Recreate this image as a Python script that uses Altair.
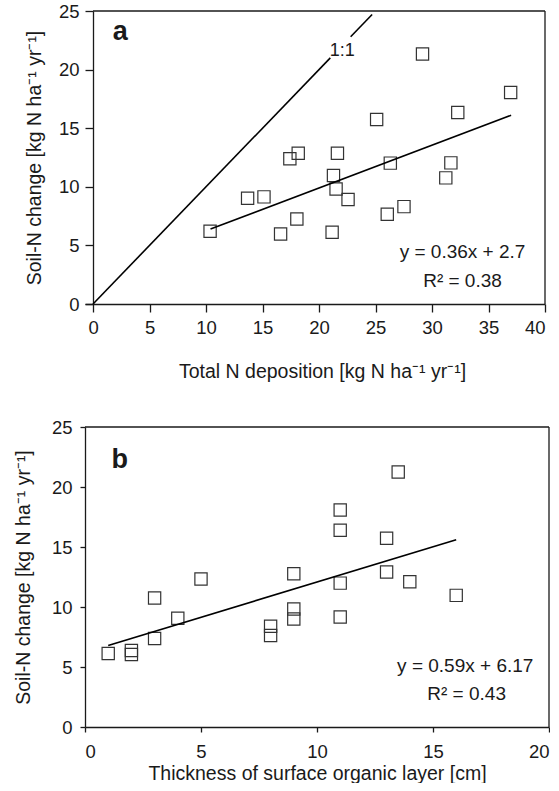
import altair as alt
import pandas as pd

FONT = "Liberation Sans"

# ---- panel a data
dep = [10.36, 13.68, 15.13, 16.6, 17.42, 18.16, 18.04, 21.16, 21.28, 21.63, 21.51,
       22.57, 25.1, 26.04, 26.31, 27.52, 29.16, 31.22, 31.67, 32.28, 36.96]
soil_a = [6.21, 9.03, 9.14, 5.98, 12.39, 12.87, 7.26, 6.12, 10.96, 12.87, 9.82,
          8.91, 15.75, 7.66, 12.02, 8.31, 21.33, 10.76, 12.04, 16.34, 18.05]
fit_a_x = [10.4, 37.0]
fit_a_y = [6.4, 16.1]
one_x = [0.0, 22.8]
one_x2 = [21.0, 24.7]
one_label = ["1:1"]
one_label_x = [22.05]
one_label_y = [21.6]
ann_a_text = ["y = 0.36x + 2.7", "R² = 0.38"]
ann_a_x = [32.7, 32.7]
ann_a_y = [4.41, 1.99]
xa_ticks = [0, 5, 10, 15, 20, 25, 30, 35, 40]

# ---- panel b data
thick = [1.0, 2.0, 2.0, 3.0, 3.0, 4.0, 5.0, 8.0, 8.0, 9.0, 9.0,
         9.0, 11.0, 11.0, 11.0, 11.0, 13.0, 13.0, 13.5, 14.0, 16.0]
soil_b = [6.12, 6.37, 6.04, 10.75, 7.37, 9.06, 12.33, 8.39, 7.62, 12.77, 9.83,
          9.0, 18.09, 16.4, 11.99, 9.17, 15.73, 12.91, 21.25, 12.1, 10.97]
fit_b_x = [1.0, 16.0]
fit_b_y = [6.8, 15.6]
ann_b_text = ["y = 0.59x + 6.17", "R² = 0.43"]
ann_b_x = [16.39, 16.45]
ann_b_y = [5.07, 2.77]
xb_ticks = [0, 5, 10, 15, 20]
y_ticks = [0, 5, 10, 15, 20, 25]

Y_TITLE = "Soil-N change [kg N ha⁻¹ yr⁻¹]"
INK = "#1a1a1a"


def panel(xs, ys, fx, fy, ann_t, ann_x, ann_y, letter, xdom, xmax, xticks,
          xtitle, width, height, tick, lpad_x, tpad_x, lpad_y, tpad_y, yoffset,
          titleX, extra=None):
    pts = pd.DataFrame({"x": xs, "y": ys})
    xsc = alt.Scale(domain=xdom, nice=False, zero=False)
    ysc = alt.Scale(domain=[0, 25], nice=False)
    xax = alt.Axis(values=xticks, title=xtitle, tickSize=tick, labelPadding=lpad_x,
                   titlePadding=tpad_x, grid=False, titleX=titleX)
    yax = alt.Axis(values=y_ticks, title=Y_TITLE, tickSize=tick,
                   labelPadding=lpad_y, titlePadding=tpad_y, grid=False,
                   offset=yoffset)
    base = alt.Chart(pts).mark_point(
        shape="square", filled=False, size=150, color="#333333",
        strokeWidth=1.2, opacity=1
    ).encode(
        x=alt.X("x:Q", scale=xsc, axis=xax),
        y=alt.Y("y:Q", scale=ysc, axis=yax),
    )
    fit = alt.Chart(pd.DataFrame({"x": [fx[0]], "x2": [fx[1]],
                                  "y": [fy[0]], "y2": [fy[1]]})).mark_rule(
        color="black", strokeWidth=1.6).encode(
        x=alt.X("x:Q", scale=xsc), x2="x2", y=alt.Y("y:Q", scale=ysc), y2="y2")
    frame = alt.Chart(pd.DataFrame({"x": [0, xmax], "x2": [xmax, xmax],
                                    "y": [25, 0], "y2": [25, 25]})).mark_rule(
        color=INK, strokeWidth=1.3).encode(
        x=alt.X("x:Q", scale=xsc), x2="x2", y=alt.Y("y:Q", scale=ysc), y2="y2")
    ann = alt.Chart(pd.DataFrame({"t": ann_t, "x": ann_x, "y": ann_y})).mark_text(
        font=FONT, fontSize=19, color=INK, align="center", baseline="middle").encode(
        x=alt.X("x:Q", scale=xsc), y=alt.Y("y:Q", scale=ysc), text="t:N")
    lab = alt.Chart(pd.DataFrame({"t": [letter[0]], "x": [letter[1]],
                                  "y": [letter[2]]})).mark_text(
        font=FONT, fontSize=27, fontWeight="bold", color=INK, align="center",
        baseline="middle").encode(
        x=alt.X("x:Q", scale=xsc), y=alt.Y("y:Q", scale=ysc), text="t:N")
    layers = [base, fit, frame, ann, lab]
    if extra:
        layers += extra(xsc, ysc)
    return alt.layer(*layers).properties(width=width, height=height)


def one_to_one(xsc, ysc):
    seg = alt.Chart(pd.DataFrame({"x": one_x, "x2": one_x2,
                                  "y": one_x, "y2": one_x2})).mark_rule(
        color="black", strokeWidth=1.6).encode(
        x=alt.X("x:Q", scale=xsc), x2="x2", y=alt.Y("y:Q", scale=ysc), y2="y2")
    txt = alt.Chart(pd.DataFrame({"t": one_label, "x": one_label_x,
                                  "y": one_label_y})).mark_text(
        font=FONT, fontSize=18, color=INK, align="center", baseline="middle").encode(
        x=alt.X("x:Q", scale=xsc), y=alt.Y("y:Q", scale=ysc), text="t:N")
    return [seg, txt]


chart_a = panel(dep, soil_a, fit_a_x, fit_a_y, ann_a_text, ann_a_x, ann_a_y,
                ("a", 2.41, 23.2), [-0.71, 40], 40, xa_ticks,
                "Total N deposition [kg N ha⁻¹ yr⁻¹]", 460, 293,
                8, 6, 26, 6, 14, -8, 237, extra=one_to_one)
chart_b = panel(thick, soil_b, fit_b_x, fit_b_y, ann_b_text, ann_b_x, ann_b_y,
                ("b", 1.5, 22.24), [0, 20], 20, xb_ticks,
                "Thickness of surface organic layer [cm]", 464, 300,
                5, 10, 4, 8, 18, 0, 232)

chart = alt.vconcat(chart_a, chart_b, spacing=37).properties(
    padding={"left": 13, "top": 2, "right": 0, "bottom": 0}
).configure_view(strokeWidth=0).configure_axis(
    labelFont=FONT, titleFont=FONT, labelFontSize=18.5, titleFontSize=19.5,
    labelColor=INK, titleColor=INK, titleFontWeight="normal",
    domainColor=INK, tickColor=INK, domainWidth=1.3, tickWidth=1.3
)

chart.save("out.html", embed_options={"renderer": "svg", "actions": False})
